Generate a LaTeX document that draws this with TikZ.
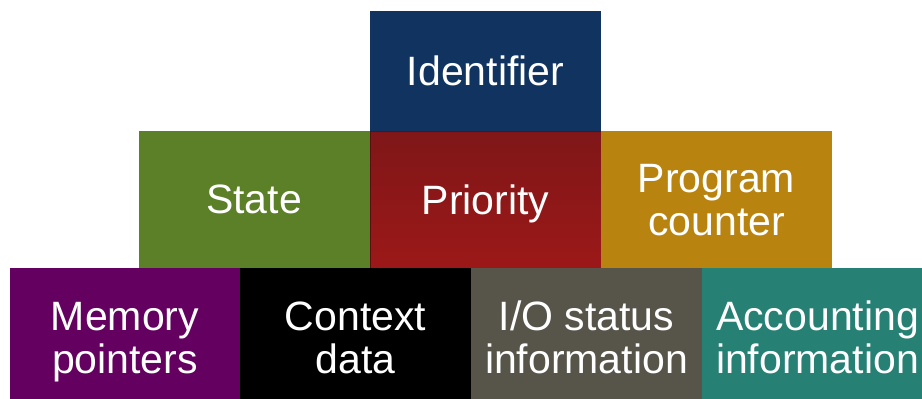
\documentclass[tikz,border=0pt]{standalone}
\usepackage{fontspec}
\setmainfont{Liberation Sans}
\usepackage{tikz}
\definecolor{IdBlue}{RGB}{16, 52, 95}
\definecolor{StateGreen}{RGB}{91, 128, 39}
\definecolor{PrioTop}{RGB}{127, 23, 24}
\definecolor{PrioBottom}{RGB}{156, 24, 24}
\definecolor{PcGold}{RGB}{184, 131, 15}
\definecolor{MemPurple}{RGB}{100, 0, 95}
\definecolor{IoGray}{RGB}{87, 84, 74}
\definecolor{AcctTeal}{RGB}{38, 128, 116}

\begin{document}
\begin{tikzpicture}[x=1pt, y=-1pt,
    cell/.style={rectangle, inner sep=0pt, minimum width=231pt, text=white,
      align=center, text depth=0pt, font=\fontsize{41}{43}\selectfont}]
    \useasboundingbox (0,0) rectangle (922,399);

    % Top row
    \node[cell, fill=IdBlue, minimum height=120pt] (ident) at (485.5,71) {Identifier};

    % Middle row
    \node[cell, fill=StateGreen, minimum height=137pt] (state) at (254,199.5) {State};
    \node[cell, top color=PrioTop, bottom color=PrioBottom, draw=PrioTop!70!black,
      line width=0.6pt, minimum height=137pt] (prio) at (485.5,199.5) {Priority};
    \node[cell, fill=PcGold, minimum height=137pt] (pc) at (716.5,199.5) {Program\\counter};

    % Bottom row (runs past the lower edge)
    \node[cell, fill=MemPurple, minimum height=139pt] (mem) at (125,337.5) {Memory\\pointers};
    \node[cell, fill=black, minimum height=139pt] (ctx) at (355.5,337.5) {Context\\data};
    \node[cell, fill=IoGray, minimum height=139pt] (io) at (586.5,337.5) {I/O status\\information};
    \node[cell, fill=AcctTeal, minimum height=139pt] (acct) at (817.5,337.5) {Accounting\\information};
  \end{tikzpicture}
\end{document}
